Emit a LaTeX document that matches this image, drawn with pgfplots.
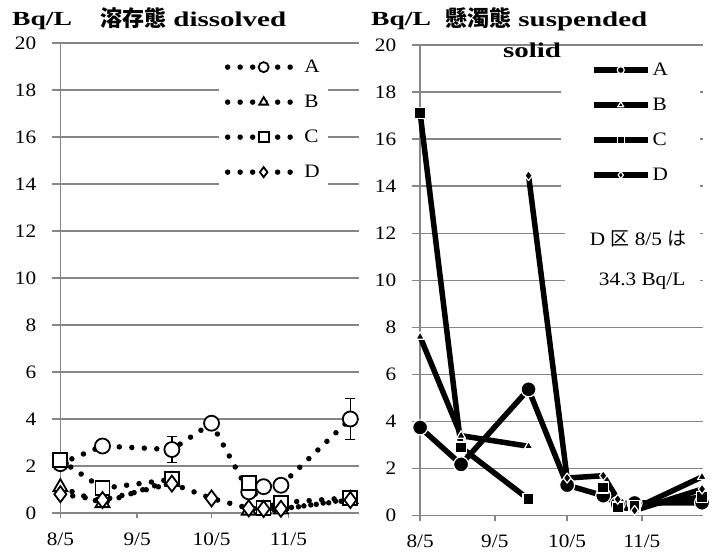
\documentclass[border=0pt]{standalone}
\usepackage{fontspec}
\setmainfont{Liberation Serif}[FakeStretch=1.12]
\newfontfamily\titlefont{Liberation Serif}[FakeStretch=1.38]
\newfontfamily\cjk{Noto Sans CJK JP}
\usepackage{pgfplots}
\usepackage{pgfplotstable}
\pgfplotsset{compat=1.18}
\definecolor{gridgray}{RGB}{134,134,134}

\pgfplotstableread{
day A B C D
0   2.10 1.10 2.25 0.80
17  2.85 0.42 1.05 0.55
45  2.70 1.40 1.43 1.25
61  3.82 nan  nan  0.62
76  0.90 0.10 1.26 0.20
82  1.12 0.15 0.22 0.17
89  1.18 0.15 0.44 0.18
117 4.00 0.60 0.65 0.55
}\dissolved

\pgfplotstableread{
day A B C D
0   3.75 7.60 17.10 nan
17  2.18 3.40 2.90  nan
45  5.37 2.95 0.70  14.45
61  1.30 nan  nan   1.60
76  0.85 1.30 1.20  1.70
82  0.50 0.35 0.35  0.70
89  0.54 0.30 0.40  0.22
117 0.55 1.65 0.80  1.13
}\suspended

\pgfplotsset{
  base/.style={
    scale only axis,
    ymin=0, ymax=20, ytick={0,2,...,20},
    xtick={0,31,61,92}, xticklabels={8/5,9/5,10/5,11/5},
    ymajorgrids,
    major grid style={gridgray, line width=1.5pt},
    axis line style={draw=none},
    extra x ticks={0}, extra x tick labels={},
    extra x tick style={grid=major},
    tick align=outside, major tick length=5pt,
    xtick pos=lower, ytick pos=left,
    xtick style={gridgray, line width=1.5pt},
    ytick style={draw=none},
    tick label style={font=\fontsize{19}{22}\selectfont},
    yticklabel style={xshift=-7pt},
    xticklabel style={yshift=-21pt, anchor=center},
    /pgf/number format/assume math mode=true,
    unbounded coords=jump,
    legend cell align=left,
  },
  dotl/.style={black, line width=5.5pt, line cap=round, dash pattern=on 0pt off 12.5pt,
    mark options={solid, draw=black, fill=white, line width=1.8pt}},
  solidl/.style={black, line width=5.5pt, line join=round,
    mark options={solid, fill=black, draw=white, line width=1.2pt}},
}

\begin{document}
\begin{tikzpicture}
\useasboundingbox (0pt,0pt) rectangle (720pt,556pt);

% ---------------- left: dissolved
\begin{axis}[base,
  at={(51.7pt,43pt)}, anchor=south west,
  width=307.3pt, height=470pt,
  xmin=-3.5, xmax=120.5,
  legend style={at={(axis description cs:0.899,0.981)}, anchor=north east,
    fill=white, draw=none, row sep=17pt, inner xsep=6pt, inner ysep=6pt,
    font=\fontsize{19}{22}\selectfont},
  legend image code/.code={\draw[mark repeat=2,mark phase=2,#1,mark size=5pt] plot coordinates {(0pt,0pt) (36pt,0pt) (72pt,0pt)};},
]
\addplot[only marks, mark=none, forget plot,
  error bars/.cd, y dir=both, y explicit,
  error bar style={draw=black, solid, line width=1.5pt},
  error mark options={rotate=90, mark size=5pt, line width=1.5pt, black}]
  coordinates {(45,2.70) +- (0,0.55) (117,4.00) +- (0,0.87) (45,1.43) +- (0,0.30)};
\addplot[dotl, mark=*, mark size=7.5pt] table[x=day,y=A] {\dissolved};
\addlegendentry{A}
\addplot[dotl, mark=triangle*, mark size=8pt] table[x=day,y=B] {\dissolved};
\addlegendentry{B}
\addplot[dotl, mark=square*, mark size=7pt] table[x=day,y=C] {\dissolved};
\addlegendentry{C}
\addplot[dotl, mark=diamond*, mark size=8pt] table[x=day,y=D] {\dissolved};
\addlegendentry{D}
\end{axis}

% ---------------- right: suspended
\begin{axis}[base,
  at={(411.7pt,40.3pt)}, anchor=south west,
  width=291.3pt, height=470.7pt,
  xmin=-3.5, xmax=117.4,
  legend style={at={(axis description cs:0.99,0.979)}, anchor=north east,
    fill=white, draw=none, row sep=17pt, inner xsep=30pt, inner ysep=6pt,
    font=\fontsize{19}{22}\selectfont},
  legend image code/.code={\draw[mark repeat=2,mark phase=2,#1,mark size=3.5pt] plot coordinates {(0pt,0pt) (27pt,0pt) (54pt,0pt)};},
]
\fill[white] (rel axis cs:0.526,0.468) rectangle (rel axis cs:0.99,0.71);
\node[anchor=base, font=\fontsize{19}{22}\selectfont, inner sep=0pt] at (rel axis cs:0.777,0.573) {D {\cjk 区} 8/5 {\cjk は}};
\node[anchor=base, font=\fontsize{19}{22}\selectfont, inner sep=0pt] at (rel axis cs:0.791,0.4895) {34.3 Bq/L};
\addplot[solidl, mark=*, mark size=7.5pt] table[x=day,y=A] {\suspended};
\addlegendentry{A}
\addplot[solidl, mark=triangle*, mark size=5pt] table[x=day,y=B] {\suspended};
\addlegendentry{B}
\addplot[solidl, mark=square*, mark size=5.5pt] table[x=day,y=C] {\suspended};
\addlegendentry{C}
\addplot[solidl, mark=diamond*, mark size=5pt] table[x=day,y=D] {\suspended};
\addlegendentry{D}
\end{axis}

% ---------------- titles
\node[anchor=base west, inner sep=0pt, font=\titlefont\bfseries\fontsize{20}{24}\selectfont] at (12pt,530pt) {Bq/L};
\node[anchor=base west, inner sep=0pt, font=\titlefont\bfseries\fontsize{21}{24}\selectfont] at (100pt,529pt) {{\cjk\bfseries\fontsize{22}{24}\selectfont 溶存態} dissolved};
\node[anchor=base west, inner sep=0pt, font=\titlefont\bfseries\fontsize{20}{24}\selectfont] at (371pt,530pt) {Bq/L};
\node[anchor=base west, inner sep=0pt, font=\titlefont\bfseries\fontsize{21}{24}\selectfont] at (445pt,529pt) {{\cjk\bfseries\fontsize{22}{24}\selectfont 懸濁態} suspended};
\node[anchor=base, inner sep=0pt, font=\titlefont\bfseries\fontsize{21}{24}\selectfont] at (532pt,498pt) {solid};
\end{tikzpicture}
\end{document}
